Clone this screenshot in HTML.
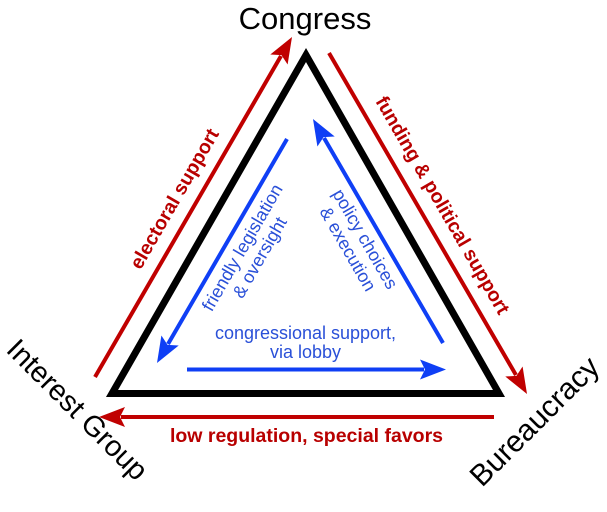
<!DOCTYPE html>
<html>
<head>
<meta charset="utf-8">
<style>
  html, body { margin: 0; padding: 0; background: #ffffff; }
  body { width: 607px; height: 512px; overflow: hidden; }
  svg { display: block; }
  text { font-family: "Liberation Sans", Arial, sans-serif; }
</style>
</head>
<body>
<svg width="607" height="512" viewBox="0 0 607 512" xmlns="http://www.w3.org/2000/svg">
  <rect x="0" y="0" width="607" height="512" fill="#ffffff"/>

  <!-- Black triangle -->
  <polygon points="306,55 499,393.5 112,393.5" fill="none" stroke="#000000" stroke-width="7" stroke-linejoin="miter" stroke-miterlimit="10"/>

  <!-- Red arrows -->
  <g stroke="#c00000" stroke-width="4" fill="none" stroke-linecap="butt">
    <line x1="95" y1="377" x2="280.97" y2="56.03"/>
    <line x1="329" y1="53" x2="515.95" y2="374.97"/>
    <line x1="494" y1="417" x2="121" y2="417"/>
  </g>
  <g fill="#c00000" stroke="none">
    <polygon points="292,37 287.62,64.50 281.47,55.17 270.32,54.48"/>
    <polygon points="527,394 505.29,376.54 516.45,375.84 522.59,366.50"/>
    <polygon points="99,417 125,407 120,417 125,427"/>
  </g>

  <!-- Blue arrows -->
  <g stroke="#0f3ff5" stroke-width="4" fill="none" stroke-linecap="butt">
    <line x1="287" y1="139" x2="168.04" y2="343.97"/>
    <line x1="443" y1="343" x2="324.04" y2="138.03"/>
    <line x1="187" y1="369.5" x2="424" y2="369.5"/>
  </g>
  <g fill="#0f3ff5" stroke="none">
    <polygon points="157,363 178.70,345.53 167.54,344.84 161.40,335.49"/>
    <polygon points="313,119 334.70,136.47 323.54,137.16 317.40,146.51"/>
    <polygon points="446,369.5 420,359.5 425,369.5 420,379.5"/>
  </g>

  <!-- Vertex labels -->
  <text x="305" y="29" font-size="31" fill="#000000" text-anchor="middle">Congress</text>
  <text transform="translate(5,351) rotate(45)" font-size="29" fill="#000000">Interest Group</text>
  <text transform="translate(482,488) rotate(-45)" font-size="30" fill="#000000">Bureaucracy</text>

  <!-- Red labels -->
  <text transform="translate(180,202) rotate(-60)" font-size="19.5" font-weight="bold" fill="#b80000" text-anchor="middle">electoral support</text>
  <text transform="translate(437,208.5) rotate(60)" font-size="19.5" font-weight="bold" fill="#b80000" text-anchor="middle">funding &amp; political support</text>
  <text x="306.5" y="442" font-size="19.5" font-weight="bold" fill="#b80000" text-anchor="middle">low regulation, special favors</text>

  <!-- Blue labels -->
  <g transform="translate(247.5,250.5) rotate(-60)" font-size="18" fill="#2a50d8" text-anchor="middle">
    <text x="0" y="0">friendly legislation</text>
    <text x="0" y="20">&amp; oversight</text>
  </g>
  <g transform="translate(360,242) rotate(60)" font-size="18" fill="#2a50d8" text-anchor="middle">
    <text x="0" y="0">policy choices</text>
    <text x="0" y="20">&amp; execution</text>
  </g>
  <text x="305.5" y="339" font-size="18" fill="#2a50d8" text-anchor="middle">congressional support,</text>
  <text x="305.5" y="358" font-size="18" fill="#2a50d8" text-anchor="middle">via lobby</text>
</svg>
</body>
</html>
